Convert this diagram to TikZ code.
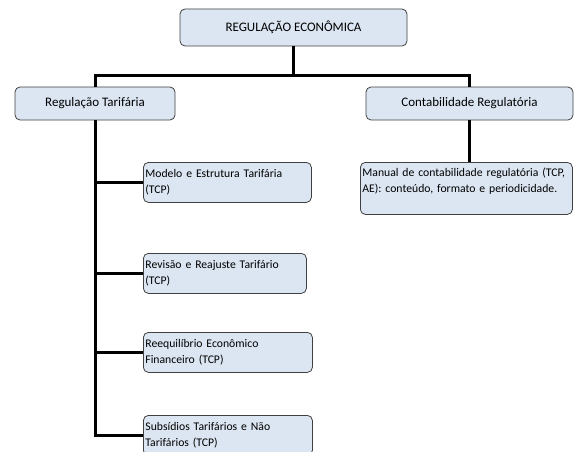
\documentclass[tikz,border=0pt]{standalone}
\usepackage{fontspec}
\setmainfont{Carlito}
\usepackage{tikz}
\definecolor{boxfill}{HTML}{DCE6F2}
\definecolor{boxline}{HTML}{404040}

\begin{document}
\begin{tikzpicture}[x=1pt,y=-1pt,
        box/.style={draw=boxline,fill=boxfill,rounded corners=5pt,line width=0.8pt,inner sep=2pt},
        midbox/.style={box,minimum height=33pt,font=\fontsize{13}{16}\selectfont},
        leafbox/.style={box,anchor=north west,align=left,minimum height=40pt,font=\fontsize{11.7}{16.5}\selectfont},
        link/.style={line width=3pt}]

    \useasboundingbox (0,0) rectangle (578,452);

    \node[box,minimum width=227pt,minimum height=37pt,font=\fontsize{13}{16}\selectfont] (eco) at (293.5,27.5) {REGULAÇÃO ECONÔMICA};

    \node[midbox,minimum width=160pt] (tar) at (95,103.5) {Regulação Tarifária};
    \node[midbox,minimum width=207pt] (cont) at (469.5,103.5) {Contabilidade Regulatória};

    \node[leafbox,text width=164pt] (mod) at (143,162) {Modelo e Estrutura Tarifária\\(TCP)};
    \node[leafbox,text width=159pt] (rev) at (143,253) {Revisão e Reajuste Tarifário\\(TCP)};
    \node[leafbox,text width=165pt] (reeq) at (143,332) {Reequilíbrio Econômico\\Financeiro (TCP)};
    \node[leafbox,text width=165pt] (sub) at (143,415) {Subsídios Tarifários e Não\\Tarifários (TCP)};

    \node[leafbox,text width=208pt,minimum height=52pt] (man) at (360,162) {Manual de contabilidade regulatória (TCP,\\AE): conteúdo, formato e periodicidade.\\~};

    % ligacoes
    \coordinate (junc) at (eco.south |- 0,75);
    \draw[link] (eco.south) -- (junc);
    \draw[link] (tar.north) |- (junc) -| (cont.north);
    \draw[link] (tar.south) |- (sub.west);
    \draw[link] (tar.south |- mod.west) -- (mod.west);
    \draw[link] (tar.south |- rev.west) -- (rev.west);
    \draw[link] (tar.south |- reeq.west) -- (reeq.west);
    \draw[link] (cont.south) -- (cont.south |- man.north);
\end{tikzpicture}
\end{document}
